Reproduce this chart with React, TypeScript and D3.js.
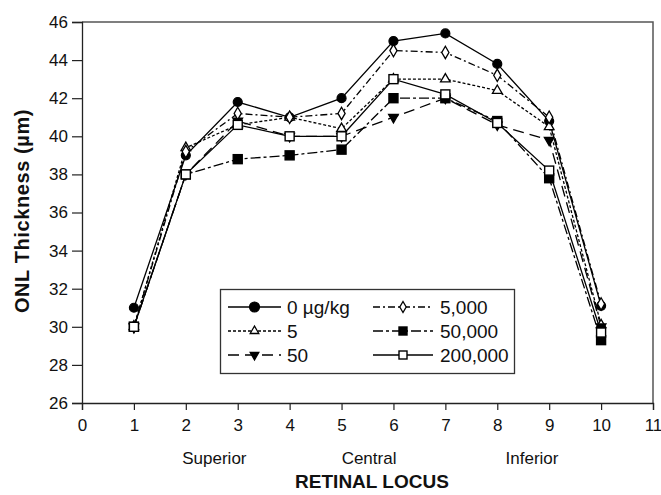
import React, { useEffect, useRef } from 'react';
import * as d3 from 'd3';

// retinal locus positions
const loci = [1, 2, 3, 4, 5, 6, 7, 8, 9, 10];

// ONL thickness (µm) per dose group
const dose0 = [31, 39, 41.8, 41, 42, 45, 45.4, 43.8, 40.8, 31.1];
const dose5 = [30, 39.4, 40.6, 41, 40.4, 43, 43, 42.4, 40.5, 30.1];
const dose50 = [30, 38, 40.8, 40, 40, 41, 42, 40.6, 39.8, 30];
const dose5000 = [30, 39.2, 41.2, 41, 41.2, 44.5, 44.4, 43.2, 41, 31.2];
const dose50000 = [30, 38, 38.8, 39, 39.3, 42, 42, 40.8, 37.8, 29.3];
const dose200000 = [30, 38, 40.6, 40, 40, 43, 42.2, 40.7, 38.2, 29.7];

const seriesNames = ['0 µg/kg', '5', '50', '5,000', '50,000', '200,000'];
const xTicks = [0, 1, 2, 3, 4, 5, 6, 7, 8, 9, 10, 11];
const yTicks = [26, 28, 30, 32, 34, 36, 38, 40, 42, 44, 46];
const regions = ['Superior', 'Central', 'Inferior'];
const regionCenters = [2.55, 5.53, 8.67];

type Style = { dash: string; marker: string; fill: string };
const styles: Style[] = [
  { dash: '', marker: 'circle', fill: '#000' },
  { dash: '3,2', marker: 'triangle', fill: '#fff' },
  { dash: '11,6', marker: 'triangleDown', fill: '#000' },
  { dash: '7,3,2,3', marker: 'diamond', fill: '#fff' },
  { dash: '10,3,3,3', marker: 'square', fill: '#000' },
  { dash: '', marker: 'square', fill: '#fff' },
];

const App = () => {
  const ref = useRef<SVGSVGElement>(null);

  useEffect(() => {
    const svg = d3.select(ref.current);
    svg.selectAll('*').remove();

    const left = 82, right = 653, top = 22, bottom = 403;
    const x = d3.scaleLinear().domain([0, 11]).range([left, right]);
    const y = d3.scaleLinear().domain([26, 46]).range([bottom, top]);

    const font = 'Arial, "Liberation Sans", Helvetica, sans-serif';
    const allSeries = [dose0, dose5, dose50, dose5000, dose50000, dose200000];

    // frame (top + right)
    svg.append('path')
      .attr('d', `M${left},${top}H${right}V${bottom}`)
      .attr('fill', 'none')
      .attr('stroke', '#555')
      .attr('stroke-width', 1.5);

    // Y axis
    const yAxis = svg.append('g')
      .attr('transform', `translate(${left},0)`)
      .call(d3.axisLeft(y).tickValues(yTicks).tickSize(10).tickPadding(4));
    yAxis.select('.domain').attr('stroke', '#222').attr('stroke-width', 1.3);
    yAxis.selectAll('.tick line').attr('stroke', '#222').attr('stroke-width', 1.2);
    yAxis.selectAll('text').attr('font-size', 17).attr('font-family', font).attr('fill', '#111');

    // X axis
    const xAxis = svg.append('g')
      .attr('transform', `translate(0,${bottom})`)
      .call(d3.axisBottom(x).tickValues(xTicks).tickSize(7).tickPadding(9).tickFormat(d3.format('d')));
    xAxis.select('.domain').attr('stroke', '#222').attr('stroke-width', 1.3);
    xAxis.selectAll('.tick line').attr('stroke', '#222').attr('stroke-width', 1.2);
    xAxis.selectAll('text').attr('font-size', 17).attr('font-family', font).attr('fill', '#111');

    // region labels
    svg.selectAll('.region')
      .data(regions)
      .enter().append('text')
      .attr('x', (d, i) => x(regionCenters[i]))
      .attr('y', 464)
      .attr('text-anchor', 'middle')
      .attr('font-size', 17)
      .attr('font-family', font)
      .attr('fill', '#111')
      .text(d => d);

    // axis titles
    svg.append('text')
      .attr('x', 372)
      .attr('y', 488)
      .attr('text-anchor', 'middle')
      .attr('font-size', 19)
      .attr('font-weight', 'bold')
      .attr('font-family', font)
      .attr('fill', '#111')
      .text('RETINAL LOCUS');

    svg.append('text')
      .attr('transform', `translate(29,211) rotate(-90)`)
      .attr('text-anchor', 'middle')
      .attr('font-size', 20)
      .attr('font-weight', 'bold')
      .attr('letter-spacing', 0.6)
      .attr('font-family', font)
      .attr('fill', '#111')
      .text('ONL Thickness (µm)');

    const drawMarker = (g: any, kind: string, fill: string, cx: number, cy: number, s: number) => {
      if (kind === 'circle') {
        g.append('circle').attr('cx', cx).attr('cy', cy).attr('r', s * 0.5)
          .attr('fill', fill).attr('stroke', '#000').attr('stroke-width', 1.2);
      } else if (kind === 'square') {
        g.append('rect').attr('x', cx - s / 2).attr('y', cy - s / 2).attr('width', s).attr('height', s)
          .attr('fill', fill).attr('stroke', '#000').attr('stroke-width', 1.4);
      } else {
        const sym = kind === 'diamond' ? d3.symbolDiamond : d3.symbolTriangle;
        const area = kind === 'diamond' ? s * s * 0.55 : s * s * 0.5;
        let tr = `translate(${cx},${cy})`;
        if (kind === 'triangleDown') tr += ' rotate(180)';
        g.append('path').attr('d', d3.symbol(sym, area)()).attr('transform', tr)
          .attr('fill', fill).attr('stroke', '#000').attr('stroke-width', 1.3);
      }
    };

    // lines
    const line = d3.line<number>().x((d, i) => x(loci[i])).y(d => y(d));
    allSeries.forEach((vals, si) => {
      svg.append('path')
        .datum(vals)
        .attr('d', line)
        .attr('fill', 'none')
        .attr('stroke', '#000')
        .attr('stroke-width', 1.3)
        .attr('stroke-dasharray', styles[si].dash || null);
    });

    // markers
    const markers = svg.append('g');
    allSeries.forEach((vals, si) => {
      vals.forEach((v, i) => {
        drawMarker(markers, styles[si].marker, styles[si].fill, x(loci[i]), y(v), 9);
      });
    });

    // legend
    const lg = svg.append('g');
    lg.append('rect')
      .attr('x', 220.5).attr('y', 289.5).attr('width', 294).attr('height', 84)
      .attr('fill', '#fff').attr('stroke', '#333').attr('stroke-width', 1.3);
    const colX = [[228, 281, 287], [373, 433, 440]];
    const rowY = [307, 331, 355];
    seriesNames.forEach((name, si) => {
      const col = si < 3 ? 0 : 1;
      const row = si % 3;
      const [x0, x1, tx] = colX[col];
      const cy = rowY[row];
      lg.append('line')
        .attr('x1', x0).attr('x2', x1).attr('y1', cy).attr('y2', cy)
        .attr('stroke', '#000').attr('stroke-width', 1.3)
        .attr('stroke-dasharray', styles[si].dash || null);
      drawMarker(lg, styles[si].marker, styles[si].fill, (x0 + x1) / 2, cy, si === 0 ? 10 : 8);
      lg.append('text')
        .attr('x', tx).attr('y', cy + 6.5)
        .attr('font-size', 19)
        .attr('font-family', font)
        .attr('fill', '#111')
        .text(name);
    });
  }, []);

  return (
    <svg ref={ref} width={661} height={495}
      style={{ position: 'absolute', left: 0, top: 0, background: '#fff' }} />
  );
};

export default App;
